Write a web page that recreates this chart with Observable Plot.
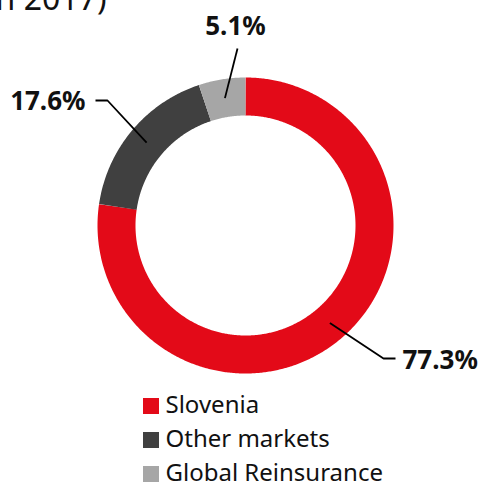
<!DOCTYPE html>
<html><head><meta charset="utf-8">
<script src="https://cdn.jsdelivr.net/npm/d3@7"></script>
<script src="https://cdn.jsdelivr.net/npm/@observablehq/plot@0.6"></script>
<style>
body{margin:0;background:#fff}
#chart{position:relative;width:480px;height:482px;overflow:hidden}
</style>
</head><body><div id="chart"></div>
<script>
// ---- data ----
const segments = ["Slovenia", "Other markets", "Global Reinsurance"];
const shares = [77.3, 17.6, 5.1];
const shareLabels = ["77.3%", "17.6%", "5.1%"];
const colors = ["#e30a18", "#404040", "#a6a6a6"];
const titleTail = "(in 2017)";

// ---- layout (pixels) ----
const CX = 245, CY = 225, R_MID = 129, RING = 38;
const px = v => v - CX, py = v => CY - v;
const leaderLayout = [
  {elbow: [383, 358], end: [395, 358], text: [402, 360], anchor: "start"},
  {elbow: [107, 100], end: [95, 100], text: [85, 101], anchor: "end"},
  {elbow: null, end: [237, 48], text: [235, 26], anchor: "middle"}
];

const total = d3.sum(shares);
let cum = 0;
const arcPts = [], leaders = [], labelRows = [];
segments.forEach((s, i) => {
  const a0 = cum / total * 2 * Math.PI; cum += shares[i];
  const a1 = cum / total * 2 * Math.PI;
  const n = Math.max(2, Math.ceil((a1 - a0) / (Math.PI / 360)));
  for (let k = 0; k <= n; k++) {
    const a = a0 + (a1 - a0) * k / n;
    arcPts.push({segment: s, x: R_MID * Math.sin(a), y: R_MID * Math.cos(a)});
  }
  const am = (a0 + a1) / 2, L = leaderLayout[i];
  leaders.push({segment: s, x: R_MID * Math.sin(am), y: R_MID * Math.cos(am)});
  if (L.elbow) leaders.push({segment: s, x: px(L.elbow[0]), y: py(L.elbow[1])});
  leaders.push({segment: s, x: px(L.end[0]), y: py(L.end[1])});
  labelRows.push({label: shareLabels[i], x: px(L.text[0]), y: py(L.text[1]), anchor: L.anchor});
});

const legendRows = segments.map((s, i) => ({segment: s, yc: py(405 + 34 * i)}));

const chart = Plot.plot({
  width: 480, height: 482, margin: 0,
  style: {fontFamily: "'Noto Sans', sans-serif", background: "#fff"},
  x: {domain: [-CX, 480 - CX], axis: null},
  y: {domain: [CY - 482, CY], axis: null},
  color: {domain: segments, range: colors},
  marks: [
    Plot.line(arcPts, {x: "x", y: "y", z: "segment", stroke: "segment", strokeWidth: RING, strokeLinecap: "butt", strokeLinejoin: "round"}),
    Plot.line(leaders, {x: "x", y: "y", z: "segment", stroke: "#000", strokeWidth: 1.8, strokeLinecap: "butt"}),
    Plot.text(labelRows.filter(d => d.anchor === "start"), {x: "x", y: "y", text: "label", textAnchor: "start", fontSize: 26, fontWeight: "bold", fill: "#111"}),
    Plot.text(labelRows.filter(d => d.anchor === "end"), {x: "x", y: "y", text: "label", textAnchor: "end", fontSize: 26, fontWeight: "bold", fill: "#111"}),
    Plot.text(labelRows.filter(d => d.anchor === "middle"), {x: "x", y: "y", text: "label", textAnchor: "middle", fontSize: 26, fontWeight: "bold", fill: "#111"}),
    Plot.rect(legendRows, {x1: () => px(143), x2: () => px(159), y1: d => d.yc - 1 + 8, y2: d => d.yc - 1 - 8, fill: "segment"}),
    Plot.text(legendRows, {x: () => px(165), y: "yc", text: "segment", textAnchor: "start", fontSize: 24, fill: "#111"}),
    Plot.text([titleTail], {x: () => px(106), y: () => py(-1), text: d => d, textAnchor: "end", fontSize: 32, fill: "#111"})
  ]
});
document.getElementById("chart").appendChild(chart);
</script>
</body></html>
